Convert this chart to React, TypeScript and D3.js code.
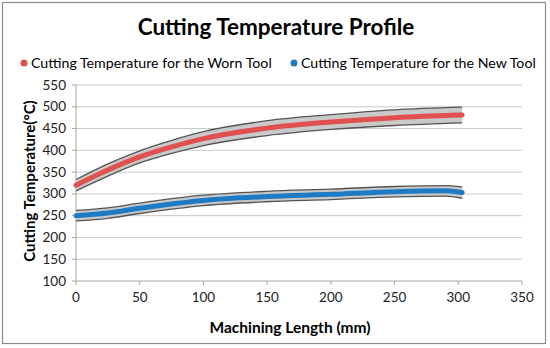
// App.tsx
import React from "react";
import * as d3 from "d3";

const wornX = [0, 25, 50, 75, 100, 150, 200, 250, 303];
const wornTemp = [320, 355, 385, 408, 427, 451, 465, 475, 481];
const wornUpper = [333, 369, 399, 423, 443, 468, 482, 493, 499];
const wornLower = [307, 341, 371, 393, 411, 434, 448, 457, 463];

const newX = [0, 25, 50, 100, 150, 200, 250, 290, 303];
const newTemp = [250, 256, 267, 285, 294, 299, 305, 307, 303];
const newUpper = [262, 268, 279, 297, 306, 311, 317, 319, 316];
const newLower = [238, 244, 255, 273, 282, 287, 293, 295, 290];

const xTicks = [0, 50, 100, 150, 200, 250, 300, 350];
const yTicks = [100, 150, 200, 250, 300, 350, 400, 450, 500, 550];

const seriesNames = [
  "Cutting Temperature for the Worn Tool",
  "Cutting Temperature for the New Tool",
];

const RED = "#e0504e";
const BLUE = "#1f7ac4";
const FONT = "Lato, 'Open Sans', sans-serif";

export default function App() {
  const width = 550;
  const height = 348;
  const margin = { left: 76, right: 28, top: 85, bottom: 67 };

  const x = d3.scaleLinear().domain([0, 350]).range([margin.left, width - margin.right]);
  const y = d3.scaleLinear().domain([100, 550]).range([height - margin.bottom, margin.top]);

  const line = d3
    .line<[number, number]>()
    .x((d) => x(d[0]))
    .y((d) => y(d[1]))
    .curve(d3.curveMonotoneX);

  const area = d3
    .area<[number, number, number]>()
    .x((d) => x(d[0]))
    .y0((d) => y(d[1]))
    .y1((d) => y(d[2]))
    .curve(d3.curveMonotoneX);

  const series = [
    { xs: wornX, mid: wornTemp, up: wornUpper, lo: wornLower, color: RED },
    { xs: newX, mid: newTemp, up: newUpper, lo: newLower, color: BLUE },
  ];

  const y0 = y(100);

  return (
    <svg
      width={width}
      height={height}
      style={{ position: "absolute", left: 0, top: 0, background: "#fff" }}
      fontFamily={FONT}
    >
      <rect x={2.5} y={2.5} width={543} height={341} fill="#fff" stroke="#8c8c8c" strokeWidth={1.2} />

      <text x={276} y={35} textAnchor="middle" fontSize={22.5} fontWeight="bold" fill="#000">
        Cutting Temperature Profile
      </text>

      {/* legend */}
      <g fontSize={14.2} fill="#000">
        <circle cx={24} cy={63} r={3.5} fill={RED} />
        <text x={31} y={68}>{seriesNames[0]}</text>
        <circle cx={294} cy={63} r={3.5} fill={BLUE} />
        <text x={301} y={68}>{seriesNames[1]}</text>
      </g>

      {/* grid + y ticks */}
      {yTicks.map((t) => (
        <g key={t}>
          {t !== 100 && (
            <line x1={margin.left} x2={width - margin.right} y1={y(t)} y2={y(t)} stroke="#c8c8c8" strokeWidth={1} />
          )}
          <line x1={margin.left - 4} x2={margin.left} y1={y(t)} y2={y(t)} stroke="#a6a6a6" />
          <text x={66} y={y(t) + 4.5} textAnchor="end" fontSize={13.5} fill="#222">
            {t}
          </text>
        </g>
      ))}

      {/* axes */}
      <line x1={margin.left} x2={margin.left} y1={margin.top} y2={y0} stroke="#a6a6a6" />
      <line x1={margin.left} x2={width - margin.right} y1={y0} y2={y0} stroke="#a6a6a6" />
      {xTicks.map((t) => (
        <g key={t}>
          <line x1={x(t)} x2={x(t)} y1={y0} y2={y0 + 4} stroke="#a6a6a6" />
          <text x={x(t)} y={y0 + 21} textAnchor="middle" fontSize={13.5} fill="#222">
            {t}
          </text>
        </g>
      ))}

      {/* bands and lines */}
      {series.map((s, i) => {
        const band = s.xs.map((v, j) => [v, s.lo[j], s.up[j]] as [number, number, number]);
        const upPts = s.xs.map((v, j) => [v, s.up[j]] as [number, number]);
        const loPts = s.xs.map((v, j) => [v, s.lo[j]] as [number, number]);
        const midPts = s.xs.map((v, j) => [v, s.mid[j]] as [number, number]);
        return (
          <g key={i}>
            <path d={area(band) ?? ""} fill="#c9c9c9" />
            <path d={line(upPts) ?? ""} fill="none" stroke="#555" strokeWidth={1.3} />
            <path d={line(loPts) ?? ""} fill="none" stroke="#555" strokeWidth={1.3} />
            <path d={line(midPts) ?? ""} fill="none" stroke={s.color} strokeWidth={5} strokeLinecap="round" />
          </g>
        );
      })}

      {/* axis titles */}
      <text x={290} y={333} textAnchor="middle" fontSize={15.5} fontWeight="bold" fill="#000">
        Machining Length (mm)
      </text>
      <text
        transform="translate(35,181) rotate(-90)"
        textAnchor="middle"
        fontSize={15}
        fontWeight="bold"
        fill="#000"
      >
        Cutting Temperature(°C)
      </text>
    </svg>
  );
}
